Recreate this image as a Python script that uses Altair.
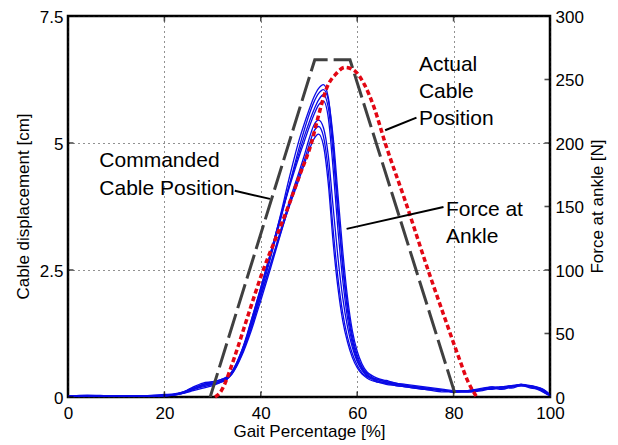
import altair as alt
import pandas as pd

FONT = "Liberation Sans"

# ---------------- data ----------------
gait_x = [0, 4, 8, 12, 16, 20, 22, 24, 26, 28, 30, 32, 33, 34, 35, 36, 38, 40, 42, 44,
          46, 48, 49, 50, 51, 52, 53, 54, 55, 56, 57, 58, 59, 60, 61, 62, 63, 64, 66, 68,
          70, 74, 78, 80, 83, 86, 88, 90, 92, 94, 96, 98, 99, 100]

force_a = [1, 1, 0.5, 1, 0.5, 1, 1.5, 3, 6, 8, 10, 13, 15, 19, 26, 35, 58, 84, 112, 142,
           174, 203, 215, 226, 236, 243, 246, 236, 200, 150, 106, 72, 48, 33, 24, 19, 16, 14, 12, 11,
           9, 7, 5, 4, 5, 6, 7, 8, 9, 10, 8, 7, 5, 1]
force_b = [0.5, 1.5, 1, 0.5, 1, 1.5, 2, 4, 8, 11, 12, 14, 16, 20, 27, 36, 57, 82, 109, 138,
           168, 197, 210, 222, 232, 239, 242, 234, 205, 160, 115, 78, 52, 36, 26, 20, 17, 15, 13, 11,
           10, 8, 6, 5, 5, 6, 8, 7, 8, 9, 9, 6, 4, 2]
force_c = [1, 0.5, 1, 1, 1, 1, 1.5, 3, 5, 7, 9, 12, 14, 18, 25, 34, 60, 86, 113, 141,
           168, 193, 205, 216, 226, 234, 238, 228, 192, 145, 102, 68, 45, 31, 23, 18, 15, 14, 12, 10,
           9, 7, 5, 4, 4, 6, 7, 6, 8, 10, 8, 6, 3, 1]
force_d = [1, 1, 1, 0.5, 1, 1, 2, 4, 7, 10, 11, 13, 15, 20, 27, 36, 60, 86, 113, 140,
           166, 190, 201, 212, 222, 230, 233, 220, 180, 132, 92, 62, 42, 29, 22, 17, 15, 13, 11, 10,
           9, 7, 5, 4, 5, 7, 8, 7, 9, 9, 7, 6, 4, 1]
force_e = [1, 1, 1, 0.5, 1, 2, 2.5, 4, 7, 10, 12, 14, 16, 19, 25, 33, 54, 79, 104, 130,
           155, 178, 190, 203, 214, 218, 212, 190, 150, 110, 78, 55, 39, 28, 21, 17, 15, 13, 11, 10,
           9, 7, 5, 4, 4, 6, 7, 7, 8, 10, 9, 7, 5, 2]
force_f = [0.5, 1, 1, 1, 0.5, 1, 1.5, 3, 6, 9, 11, 13, 15, 18, 24, 32, 52, 76, 101, 127,
           152, 175, 186, 198, 209, 213, 205, 178, 132, 94, 66, 47, 34, 25, 19, 16, 14, 12, 11, 9,
           8, 6, 5, 4, 5, 6, 6, 8, 8, 9, 8, 6, 4, 1]
force_g = [1, 0.5, 1, 1, 1, 1, 2, 3.5, 6, 9, 10, 12, 14, 19, 26, 34, 55, 80, 104, 128,
           151, 172, 183, 194, 203, 207, 198, 168, 122, 86, 60, 43, 31, 23, 18, 15, 13, 12, 10, 9,
           8, 6, 4, 4, 4, 5, 7, 8, 7, 9, 8, 5, 3, 1]

force_curves = {"a": force_a, "b": force_b, "c": force_c, "d": force_d,
                "e": force_e, "f": force_f, "g": force_g}

cmd_x = [29.5, 51.2, 58.5, 80.5]
cmd_y = [0, 6.64, 6.64, 0]

act_x = [30.5, 31.5, 32.5, 33.5, 35.3, 37.5, 40.5, 43, 45.5, 48, 50.5, 52, 53.7, 55.5, 57.5,
         59.5, 61.5, 63.5, 65.8, 70, 74.7, 78, 81, 83, 84.8]
act_y = [0, 0.08, 0.25, 0.5, 1.0, 1.65, 2.5, 3.1, 3.7, 4.35, 5.0, 5.55, 6.09, 6.35, 6.49,
         6.42, 6.15, 5.7, 5.0, 3.85, 2.5, 1.6, 0.8, 0.3, 0]

x_ticks = [0, 20, 40, 60, 80, 100]
y_ticks = [0, 2.5, 5, 7.5]
f_ticks = [0, 50, 100, 150, 200, 250, 300]
x_domain = [0, 100]
y_domain = [0, 7.5]
f_domain = [0, 300]

label_text = ["Commanded", "Cable Position", "Actual", "Cable", "Position", "Force at", "Ankle"]
label_x = [6.5, 6.5, 72.8, 72.8, 72.8, 78.4, 78.4]
label_y = [4.52, 3.98, 6.41, 5.88, 5.36, 3.57, 3.03]

ptr_x = [34.6, 65.8, 57.8]
ptr_y = [4.06, 5.25, 3.31]
ptr_x2 = [41.9, 72.3, 77.9]
ptr_y2 = [3.9, 5.5, 3.74]

# ---------------- tables ----------------
force_df = pd.DataFrame([
    {"x": x, "f": v, "run": k}
    for k, vals in force_curves.items() for x, v in zip(gait_x, vals)
])
cmd_df = pd.DataFrame({"x": cmd_x, "y": cmd_y})
act_df = pd.DataFrame({"x": act_x, "y": act_y})
lab_df = pd.DataFrame({"x": label_x, "y": label_y, "t": label_text})
ptr_df = pd.DataFrame({"x": ptr_x, "y": ptr_y, "x2": ptr_x2, "y2": ptr_y2})
xt_df = pd.DataFrame([{"x": v, "y": e} for v in x_ticks for e in y_domain])
yt_df = pd.DataFrame([{"x": x_domain[0], "y": v} for v in y_ticks])
ft_df = pd.DataFrame([{"x": x_domain[1], "f": v} for v in f_ticks])

common_axis = dict(labelFont=FONT, titleFont=FONT, labelFontSize=17, titleFontSize=17,
                   titleFontWeight="normal", labelColor="black", titleColor="black",
                   domain=False, ticks=False, tickSize=0, labelFlush=False)

x_axis = alt.Axis(values=x_ticks, title="Gait Percentage [%]", grid=True,
                  gridDash=[1, 4], gridColor="#222222", gridWidth=1,
                  labelPadding=8, titleY=39, titleBaseline="alphabetic", **common_axis)
y_axis = alt.Axis(values=y_ticks, labelExpr="'' + datum.value",
                  title="Cable displacement [cm]", grid=True,
                  gridDash=[1, 4], gridColor="#222222", gridWidth=1, orient="left",
                  labelPadding=5, labelOffset=1, titleX=-45, titleY=190, titleAngle=270,
                  titleBaseline="middle", titleAlign="center", **common_axis)
f_axis = alt.Axis(values=f_ticks, labelExpr="'' + datum.value", title="Force at ankle [N]",
                  grid=False, orient="right", labelPadding=5, labelOffset=1,
                  titleX=47, titleY=190, titleAngle=270,
                  titleBaseline="middle", titleAlign="center", **common_axis)

xs = alt.Scale(domain=x_domain, nice=False, zero=False)
ys = alt.Scale(domain=y_domain, nice=False)
fs = alt.Scale(domain=f_domain, nice=False)

X = alt.X("x:Q", scale=xs, axis=x_axis)
Y = alt.Y("y:Q", scale=ys, axis=y_axis)
F = alt.Y("f:Q", scale=fs, axis=f_axis)

blue = alt.Chart(force_df).mark_line(color="#0a0ae6", strokeWidth=1.3,
                                     interpolate="monotone").encode(
    x=X, y=F, detail="run:N", order="x:Q")
f_ticks_layer = alt.Chart(ft_df).mark_tick(orient="horizontal", size=11, thickness=1.6,
                                           color="black", clip=True).encode(x=X, y=F)
force_group = alt.layer(blue, f_ticks_layer)

cmd = alt.Chart(cmd_df).mark_line(color="#404040", strokeWidth=3,
                                  strokeDash=[25, 6]).encode(x=X, y=Y, order="x:Q")
act = alt.Chart(act_df).mark_line(color="#e30613", strokeWidth=3.5, strokeDash=[5, 3],
                                  interpolate="monotone").encode(x=X, y=Y, order="x:Q")
ptr = alt.Chart(ptr_df).mark_rule(color="black", strokeWidth=2).encode(
    x=X, y=Y, x2="x2:Q", y2="y2:Q")
labels = alt.Chart(lab_df).mark_text(align="left", baseline="alphabetic", font=FONT,
                                     fontSize=21, color="black").encode(x=X, y=Y, text="t:N")
xt = alt.Chart(xt_df).mark_tick(orient="vertical", size=11, thickness=1.6,
                                color="black", clip=True).encode(x=X, y=Y)
yt = alt.Chart(yt_df).mark_tick(orient="horizontal", size=11, thickness=1.6,
                                color="black", clip=True).encode(x=X, y=Y)
left_group = alt.layer(cmd, act, ptr, labels, xt, yt)

chart = alt.layer(force_group, left_group).resolve_scale(y="independent").properties(
    width=482, height=381,
    autosize=alt.AutoSizeParams(type="none"),
    padding={"left": 60, "top": 8, "right": 60, "bottom": 46},
    background="white",
).configure_view(stroke="black", strokeWidth=2.5)

chart.save("out.html", embed_options={"renderer": "svg", "actions": False})
